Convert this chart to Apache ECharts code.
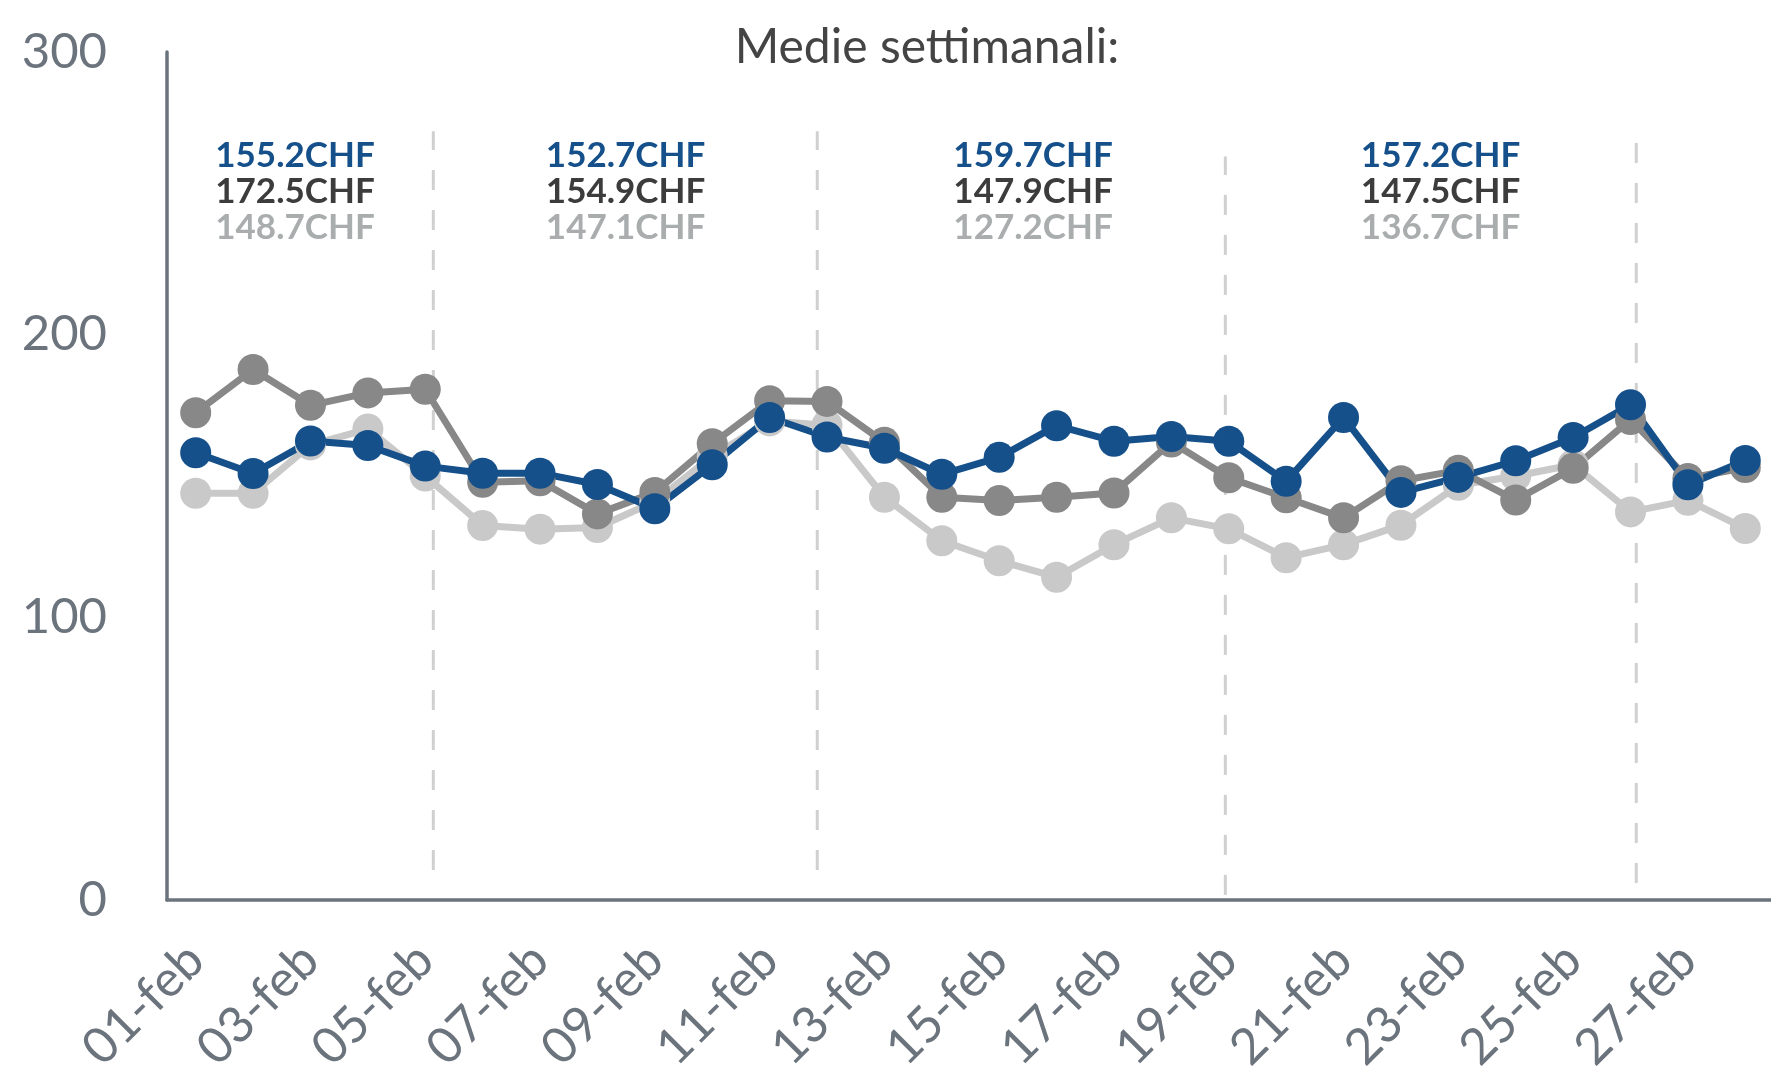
<!DOCTYPE html>
<html>
<head>
<meta charset="utf-8">
<title>Medie settimanali</title>
<script src="https://cdn.jsdelivr.net/npm/echarts@6/dist/echarts.min.js"></script>
<style>
  html, body { margin: 0; padding: 0; background: #fff; }
  #chart { width: 1771px; height: 1070px; }
</style>
</head>
<body>
<div id="chart"></div>
<script>
// giorni di febbraio
var giorni = ['01-feb','02-feb','03-feb','04-feb','05-feb','06-feb','07-feb','08-feb','09-feb','10-feb',
  '11-feb','12-feb','13-feb','14-feb','15-feb','16-feb','17-feb','18-feb','19-feb','20-feb',
  '21-feb','22-feb','23-feb','24-feb','25-feb','26-feb','27-feb','28-feb'];

// valori giornalieri (CHF)
var serieBlu = [158.2,150.9,162.4,160.8,153.5,151.0,151.0,147.0,138.4,154.0,
  170.7,163.8,159.8,150.6,156.6,167.8,162.3,164.0,162.3,148.1,
  170.7,144.2,149.5,155.4,163.6,175.2,146.9,155.5];
var serieGrigio = [172.4,187.7,175.0,179.4,180.7,147.8,148.3,136.6,144.2,161.4,
  176.6,176.4,161.9,142.5,141.3,142.5,144.0,162.0,149.4,142.3,
  135.2,148.3,152.0,141.5,152.7,170.0,149.1,153.0];
var serieChiaro = [143.9,143.9,161.0,166.6,150.0,132.5,131.2,131.8,141.0,157.0,
  169.5,168.0,142.5,127.1,120.0,114.2,125.7,135.2,131.3,121.1,
  125.7,132.6,146.7,150.0,154.0,137.3,141.4,131.4];

// medie settimanali
var medieBlu = [155.2, 152.7, 159.7, 157.2];
var medieGrigio = [172.5, 154.9, 147.9, 147.5];
var medieChiaro = [148.7, 147.1, 127.2, 136.7];

// separatori settimane (indice giorno sull'asse) e loro estensione
var sepX = [4.14, 10.83, 17.94, 25.1];
var sepBasso = [10.6, 10.6, 1.8, 6.0];
var sepAlto = [272, 272, 263, 267.8];
// posizione blocchi medie
var medieX = [1.73, 7.49, 14.59, 21.69];
var medieY = 250.6;

var BLU = '#16508a', GRIGIO = '#888888', CHIARO = '#c9c9c9';
var ASSE = '#6b737c';
var FONT = 'Lato';

var chart = echarts.init(document.getElementById('chart'));

var series = [];
function lineSerie(name, data, color) {
    return {
        name: name,
        type: 'line',
        data: data,
        symbol: 'circle',
        symbolSize: 31,
        lineStyle: { width: 7, color: color },
        itemStyle: { color: color },
        silent: true,
        animation: false
    };
}
series.push(lineSerie('chiaro', serieChiaro, CHIARO));
series.push(lineSerie('grigio', serieGrigio, GRIGIO));
series.push(lineSerie('blu', serieBlu, BLU));

// linee tratteggiate tra le settimane
sepX.forEach(function (x, i) {
    series.push({
        type: 'line',
        xAxisIndex: 1,
        data: [[x, sepBasso[i]], [x, sepAlto[i]]],
        showSymbol: false,
        lineStyle: { width: 3, color: '#d0d0d0', type: [20, 20] },
        silent: true,
        animation: false,
        z: 1
    });
});

// testi medie
series.push({
    type: 'scatter',
    xAxisIndex: 1,
    symbolSize: 0,
    silent: true,
    animation: false,
    itemStyle: { opacity: 1 },
    data: medieX.map(function (x, i) { return [x, medieY, i]; }),
    label: {
        show: true,
        position: 'inside',
        formatter: function (p) {
            var i = p.data[2];
            return '{a|' + medieBlu[i].toFixed(1) + 'CHF}\n{b|' + medieGrigio[i].toFixed(1) +
                'CHF}\n{c|' + medieChiaro[i].toFixed(1) + 'CHF}';
        },
        rich: {
            a: { color: BLU, fontFamily: FONT, fontWeight: 'bold', fontSize: 35, lineHeight: 36 },
            b: { color: '#3c3c3c', fontFamily: FONT, fontWeight: 'bold', fontSize: 35, lineHeight: 36 },
            c: { color: '#a9adad', fontFamily: FONT, fontWeight: 'bold', fontSize: 35, lineHeight: 36 }
        }
    },
    z: 5
});

chart.setOption({
    backgroundColor: '#fff',
    animation: false,
    grid: { left: 167, right: -3, top: 52, bottom: 170, outerBoundsMode: 'none' },
    graphic: [{
        type: 'text',
        x: 927,
        y: 48,
        style: {
            text: 'Medie settimanali:', fontFamily: FONT, fontSize: 48, fill: '#444444',
            align: 'center', verticalAlign: 'middle'
        }
    }],
    xAxis: [{
        type: 'category',
        data: giorni,
        boundaryGap: true,
        axisLine: { lineStyle: { color: ASSE, width: 3.5 } },
        axisTick: { show: false },
        splitLine: { show: false },
        axisLabel: {
            interval: 1,
            rotate: 45,
            margin: 52,
            color: ASSE,
            fontFamily: FONT,
            fontSize: 50
        }
    }, {
        type: 'value',
        min: -0.5,
        max: 27.5,
        show: false
    }],
    yAxis: {
        type: 'value',
        min: 0,
        max: 300,
        interval: 100,
        axisLine: { show: true, onZero: false, lineStyle: { color: ASSE, width: 3.5 } },
        axisTick: { show: false },
        splitLine: { show: false },
        axisLabel: { margin: 60, color: ASSE, fontFamily: FONT, fontSize: 49 }
    },
    series: series
});
</script>
</body>
</html>
